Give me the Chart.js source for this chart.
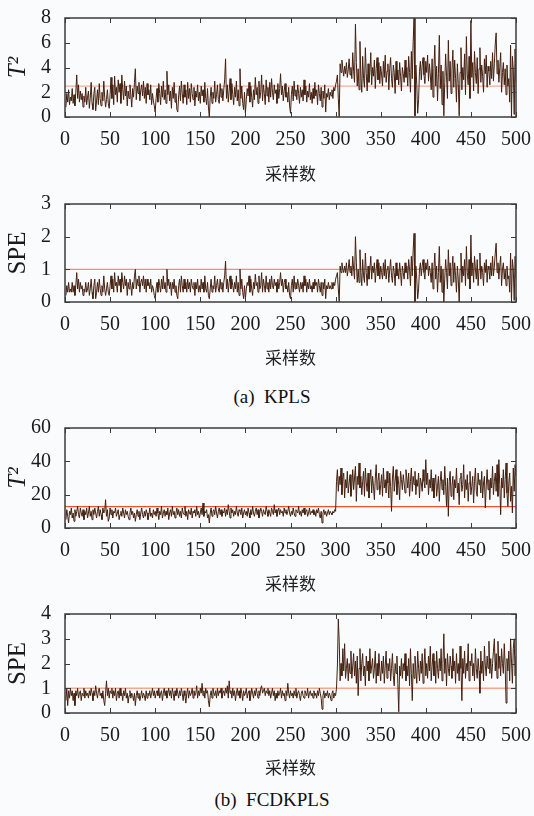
<!DOCTYPE html>
<html>
<head>
<meta charset="utf-8">
<script src="https://cdn.jsdelivr.net/npm/chart.js@4/dist/chart.umd.min.js"></script>
<style>
  body { margin: 0; background: #fafbfd; }
  #page { position: relative; width: 534px; height: 816px; }
  canvas { position: absolute; left: 0; }
  .cap { position: absolute; left: 0; width: 544px; text-align: center; white-space: pre;
         font-family: 'Liberation Serif', 'Times New Roman', serif; font-size: 19px; color: #111; }
</style>
</head>
<body>
<div id="page">
  <canvas id="c1" width="534" height="186" style="top:0px"></canvas>
  <canvas id="c2" width="534" height="186" style="top:186px"></canvas>
  <div class="cap" style="top:386px">(a)  KPLS</div>
  <canvas id="c3" width="534" height="186" style="top:410px"></canvas>
  <canvas id="c4" width="534" height="186" style="top:596px"></canvas>
  <div class="cap" style="top:789px">(b)  FCDKPLS</div>
</div>
<script>
// x axis: samples 1..500
var xTicks = [0, 50, 100, 150, 200, 250, 300, 350, 400, 450, 500];
var xLabel = '采样数';

// (a) KPLS  T^2
var kplsT2 = [
  0.8,1.9,1.2,2.2,1.0,1.6,1.3,2.3,1.1,1.8,0.9,2.0,3.4,1.5,2.6,1.2,2.1,1.4,1.9,0.8,1.7,1.2,2.4,1.0,1.6,
  2.1,0.7,1.5,2.8,1.1,0.6,1.9,2.4,0.5,1.3,2.2,1.0,2.7,1.5,0.9,2.0,1.3,2.9,1.6,0.8,1.4,2.2,1.1,0.7,1.8,
  3.2,1.5,2.6,1.0,3.3,1.8,2.4,1.2,3.0,2.0,2.7,1.1,3.4,2.2,1.4,2.9,1.7,2.5,0.9,2.1,1.5,2.6,1.8,0.8,2.3,
  1.6,2.8,3.9,1.4,2.5,1.9,2.8,1.3,2.2,2.6,1.7,2.9,1.5,2.4,1.1,2.7,1.8,2.2,1.4,2.6,1.0,1.9,1.3,0.9,0.4,
  1.5,2.3,1.2,2.7,1.9,1.0,2.5,1.6,2.9,1.4,2.2,1.1,3.7,1.8,2.6,1.3,2.1,0.7,2.4,1.5,2.8,1.2,1.9,0.6,0.4,
  1.7,2.5,1.3,2.9,1.9,1.1,2.6,1.6,2.2,1.0,2.8,1.5,2.3,1.2,2.7,1.9,1.4,2.4,0.9,2.1,1.6,2.6,1.3,2.0,1.1,
  2.5,1.7,2.2,1.2,2.8,1.5,1.0,2.3,0.8,0.0,1.6,2.4,1.1,2.0,1.5,2.9,1.2,1.8,2.6,1.4,1.1,2.7,1.6,2.3,1.3,
  2.2,3.0,4.7,1.5,2.6,1.2,2.1,3.1,1.4,2.7,1.8,1.0,2.4,1.6,2.9,1.3,2.2,0.9,3.9,1.5,2.5,1.1,0.6,2.0,0.3,
  1.4,2.3,1.7,2.8,1.2,2.5,1.6,0.8,2.2,1.4,3.2,1.8,2.4,1.1,2.9,1.5,2.0,3.4,1.3,2.6,1.9,1.0,3.0,1.7,2.4,
  1.2,2.8,1.6,3.1,2.0,1.4,2.6,1.9,2.2,1.1,2.7,1.5,2.3,3.5,1.8,2.5,1.3,2.1,2.7,1.6,2.0,1.2,2.4,0.9,0.3,
  1.8,2.5,1.3,2.9,1.7,2.2,1.4,2.6,1.9,1.1,2.4,1.6,2.2,1.3,3.0,1.8,2.5,1.2,2.1,1.6,2.7,1.4,2.0,1.1,2.3,
  1.5,2.8,1.7,2.2,1.0,2.6,1.9,1.3,2.4,0.8,2.1,1.5,2.6,0.4,1.9,1.6,2.3,1.4,2.0,1.7,2.2,1.5,2.4,2.1,2.6,
  2.9,3.4,1.5,0.0,4.3,3.6,4.6,3.9,3.3,4.1,3.5,4.4,3.2,3.8,4.7,3.4,4.0,3.1,5.2,3.7,2.8,7.5,4.4,2.5,3.9,
  2.2,6.1,3.3,2.0,4.9,3.1,2.4,5.6,3.5,2.1,4.3,2.8,3.6,5.2,2.6,4.0,3.3,4.6,2.3,3.9,4.8,3.0,4.4,2.7,4.1,
  3.4,2.5,4.5,3.2,5.0,2.8,3.7,4.3,2.2,3.9,4.8,3.1,2.4,4.2,3.6,1.9,4.5,3.0,3.8,2.6,4.4,3.3,2.1,4.0,3.5,
  2.8,4.6,3.2,4.0,2.5,4.9,3.6,2.0,5.3,3.1,6.1,8.0,0.1,4.2,2.6,0.3,1.4,3.7,4.5,3.0,4.2,4.8,3.4,2.7,4.5,
  3.6,5.0,2.9,4.3,3.4,2.2,4.7,1.6,3.9,5.8,2.5,4.1,1.3,3.5,6.6,2.3,4.2,1.0,3.7,0.1,2.8,5.1,3.3,1.5,6.2,
  2.9,4.5,1.9,3.8,5.4,2.4,4.6,3.1,1.2,4.3,2.7,0.1,3.6,5.6,2.2,4.0,3.0,5.1,1.8,6.5,3.4,2.6,4.9,1.5,7.8,
  3.2,4.4,2.1,5.3,3.6,2.7,4.8,1.9,3.9,5.6,2.8,4.2,3.3,2.0,4.7,3.5,5.0,2.4,4.1,3.7,2.6,4.5,3.1,5.2,2.9,
  4.3,5.9,6.8,3.5,4.6,2.8,4.0,5.2,2.0,3.6,4.4,2.6,3.9,1.8,4.2,2.5,3.1,1.2,5.8,0.0,4.9,3.8,0.2,5.5,2.8
];

// (a) KPLS  SPE
var kplsSPE = [
  0.2,0.5,0.3,0.6,0.3,0.4,0.3,0.6,0.3,0.5,0.2,0.5,0.9,0.4,0.7,0.3,0.6,0.4,0.5,0.2,0.4,0.3,0.6,0.3,0.4,
  0.6,0.2,0.4,0.7,0.3,0.1,0.5,0.7,0.1,0.3,0.6,0.3,0.7,0.4,0.2,0.5,0.3,0.8,0.4,0.2,0.4,0.6,0.3,0.2,0.5,
  0.8,0.4,0.7,0.3,0.9,0.5,0.6,0.3,0.8,0.5,0.7,0.3,0.9,0.6,0.4,0.8,0.5,0.7,0.2,0.6,0.4,0.7,0.5,0.2,0.6,
  0.4,0.8,1.0,0.4,0.7,0.5,0.8,0.3,0.6,0.7,0.5,0.8,0.4,0.7,0.3,0.7,0.5,0.6,0.4,0.7,0.3,0.5,0.4,0.2,0.1,
  0.4,0.6,0.3,0.7,0.5,0.3,0.7,0.4,0.8,0.4,0.6,0.3,1.0,0.5,0.7,0.4,0.6,0.2,0.6,0.4,0.7,0.3,0.5,0.2,0.1,
  0.5,0.7,0.3,0.8,0.5,0.3,0.7,0.4,0.6,0.3,0.7,0.4,0.6,0.3,0.7,0.5,0.4,0.6,0.2,0.6,0.4,0.7,0.3,0.5,0.3,
  0.7,0.4,0.6,0.3,0.8,0.4,0.3,0.6,0.2,0.1,0.4,0.7,0.3,0.5,0.4,0.8,0.3,0.5,0.7,0.4,0.3,0.7,0.4,0.6,0.3,
  0.6,0.8,1.25,0.4,0.7,0.3,0.6,0.8,0.4,0.7,0.5,0.3,0.6,0.4,0.8,0.3,0.6,0.2,1.0,0.4,0.7,0.3,0.1,0.5,0.1,
  0.4,0.6,0.5,0.8,0.3,0.7,0.4,0.2,0.6,0.4,0.85,0.5,0.6,0.3,0.8,0.4,0.5,0.9,0.3,0.7,0.5,0.3,0.8,0.4,0.6,
  0.3,0.7,0.4,0.8,0.5,0.4,0.7,0.5,0.6,0.3,0.7,0.4,0.6,0.9,0.5,0.7,0.3,0.6,0.7,0.4,0.5,0.3,0.6,0.2,0.1,
  0.5,0.7,0.3,0.8,0.4,0.6,0.4,0.7,0.5,0.3,0.6,0.4,0.6,0.3,0.8,0.5,0.7,0.3,0.6,0.4,0.7,0.4,0.5,0.3,0.6,
  0.4,0.7,0.5,0.6,0.3,0.7,0.5,0.3,0.6,0.2,0.6,0.4,0.7,0.1,0.5,0.4,0.6,0.4,0.5,0.4,0.6,0.4,0.6,0.5,0.7,
  0.8,0.9,0.4,0.0,1.1,0.9,1.2,1.0,0.9,1.1,0.9,1.2,0.8,1.0,1.3,0.9,1.1,0.8,1.4,1.0,0.7,2.0,1.2,0.6,1.0,
  0.6,1.6,0.9,0.5,1.3,0.8,0.6,1.5,0.9,0.5,1.1,0.7,1.0,1.4,0.7,1.1,0.9,1.2,0.6,1.0,1.3,0.8,1.2,0.7,1.1,
  0.9,0.7,1.2,0.8,1.3,0.7,1.0,1.1,0.6,1.0,1.3,0.8,0.6,1.1,0.9,0.5,1.2,0.8,1.0,0.7,1.2,0.9,0.5,1.1,0.9,
  0.7,1.2,0.9,1.1,0.7,1.3,1.0,0.5,1.4,0.8,1.6,2.1,0.0,1.1,0.7,0.1,0.4,1.0,1.2,0.8,1.1,1.3,0.9,0.7,1.2,
  1.0,1.3,0.8,1.1,0.9,0.6,1.2,0.4,1.0,1.5,0.7,1.1,0.3,0.9,1.7,0.6,1.1,0.3,1.0,0.0,0.7,1.3,0.9,0.4,1.6,
  0.8,1.2,0.5,1.0,1.4,0.6,1.2,0.8,0.3,1.1,0.7,0.0,1.0,1.5,0.6,1.1,0.8,1.3,0.5,1.7,0.9,0.7,1.3,0.4,2.05,
  0.8,1.2,0.6,1.4,1.0,0.7,1.3,0.5,1.0,1.5,0.7,1.1,0.9,0.5,1.2,0.9,1.3,0.6,1.1,1.0,0.7,1.2,0.8,1.4,0.8,
  1.1,1.5,1.8,0.9,1.2,0.7,1.1,1.4,0.5,1.0,1.2,0.7,1.0,0.5,1.1,0.7,0.8,0.3,1.5,0.0,1.3,1.0,0.05,1.4,0.7
];

// (b) FCDKPLS  T^2
var fcdT2 = [
  5,11,7,3,10,8,12,6,9,4,11,7,10,13,8,6,12,9,7,11,5,10,8,12,6,
  9,13,7,10,5,11,8,12,9,6,10,13,7,11,8,5,12,9,10,17,7,11,4,6,12,
  8,11,6,10,9,12,7,9,11,5,8,10,7,12,9,6,11,8,10,7,5,9,12,8,10,
  6,9,4,8,11,7,10,5,9,12,8,6,10,7,11,9,5,8,12,7,9,6,11,8,10,
  7,12,9,5,10,8,13,6,9,11,7,10,8,12,5,9,11,7,13,8,10,6,9,12,8,
  11,7,10,6,12,9,8,13,7,10,5,11,9,8,12,6,10,9,11,7,13,8,10,6,9,
  12,8,15,7,10,9,11,6,8,3,9,12,7,10,11,8,13,9,6,10,12,8,11,7,10,
  9,12,7,11,8,14,10,6,12,9,11,7,10,8,13,9,7,11,10,8,12,6,9,11,8,
  10,7,12,9,6,11,8,13,9,7,10,12,8,11,6,9,12,10,7,11,9,8,13,10,7,
  11,9,7,12,10,8,14,9,11,7,10,12,8,11,9,10,7,12,9,11,8,10,13,9,7,
  10,8,12,9,7,11,10,9,13,8,10,7,11,9,12,8,10,11,7,9,12,8,10,9,11,
  8,10,7,11,9,12,8,6,10,3,9,11,8,10,7,9,11,8,10,9,8,10,9,11,10,
  28,35,22,31,26,36,20,30,33,18,29,24,34,21,27,32,19,25,35,23,30,37,16,31,26,
  39,24,31,20,28,34,19,36,27,22,33,18,29,35,21,31,25,17,30,38,23,28,33,20,26,
  32,19,36,24,29,21,34,27,18,33,25,10,30,37,22,28,35,20,31,26,17,34,29,23,32,
  27,21,35,30,24,33,19,28,36,22,31,26,34,20,29,25,33,18,30,27,22,35,28,24,41,
  26,33,20,29,24,35,22,30,18,27,32,19,25,31,16,28,34,23,29,20,37,25,13,30,7,
  28,34,19,25,31,17,29,24,36,21,27,14,30,33,22,26,38,18,29,23,32,16,27,34,20,
  25,31,15,28,36,22,19,33,26,29,21,34,18,27,31,12,25,35,23,29,17,30,24,37,20,
  28,33,22,38,19,41,26,8,30,24,35,18,29,39,21,13,27,33,16,25,9,36,22,38,31
];

// (b) FCDKPLS  SPE
var fcdSPE = [
  0.5,1.0,0.3,0.9,0.6,1.0,0.7,0.9,0.5,0.8,0.3,0.9,0.7,1.0,0.6,0.8,0.9,0.5,0.8,0.7,1.0,0.6,0.9,0.7,0.8,
  0.6,0.9,0.7,1.0,0.8,0.5,0.9,0.7,1.1,0.8,0.6,0.9,1.0,0.7,0.8,0.6,0.9,0.5,0.3,0.8,1.3,0.7,1.0,0.6,0.9,
  0.8,1.0,0.6,0.9,0.7,1.0,0.5,0.8,0.9,0.6,1.0,0.7,0.8,0.5,0.9,0.7,1.0,0.6,0.8,0.4,0.7,0.9,0.6,0.8,0.7,
  0.5,0.8,0.3,0.7,0.9,0.6,0.8,0.5,0.7,0.9,0.6,0.8,0.7,0.5,0.9,0.6,0.8,0.7,0.9,0.6,0.8,1.0,0.7,0.9,0.6,
  0.8,0.9,0.7,1.0,0.6,0.8,0.9,0.5,0.8,1.0,0.7,0.9,0.6,0.8,1.0,0.7,0.9,0.6,1.0,0.8,0.5,0.9,0.7,1.0,0.8,
  0.6,0.9,0.7,1.0,0.8,0.5,0.9,0.7,0.4,0.8,1.0,0.6,0.9,0.7,0.8,1.0,0.6,0.9,0.7,0.8,1.1,0.6,0.9,0.7,1.0,
  0.8,1.2,0.7,0.9,0.6,1.0,0.8,0.9,0.5,0.25,0.7,0.9,0.6,1.0,0.8,0.7,0.9,0.6,1.0,0.7,0.9,0.8,1.0,0.6,0.8,
  0.9,0.7,1.0,0.8,1.1,0.6,1.3,0.8,0.9,0.6,1.0,0.7,0.9,0.5,0.8,1.0,0.7,0.9,0.6,1.0,0.8,0.5,0.9,0.7,0.8,
  1.0,0.6,0.8,0.9,0.5,0.7,1.0,0.8,0.6,0.9,0.7,1.0,0.8,0.6,0.9,0.7,1.0,1.1,0.8,0.9,1.0,0.7,0.9,0.8,1.0,
  0.7,0.9,0.6,0.8,1.0,0.7,0.9,0.5,0.8,0.6,0.9,0.7,0.8,1.0,0.6,0.9,0.7,0.8,0.5,0.9,0.7,1.2,0.8,0.6,0.9,
  0.7,0.8,0.6,0.9,0.7,1.0,0.6,0.8,0.9,0.7,0.5,0.8,0.9,0.7,0.6,0.9,0.8,0.7,1.0,0.6,0.8,0.9,0.7,0.8,0.6,
  0.9,0.7,0.8,0.6,0.9,0.7,1.0,0.8,0.6,0.15,0.7,0.9,0.6,0.8,0.7,0.9,0.6,0.8,0.7,0.5,0.8,0.9,0.6,0.8,0.7,
  1.0,1.9,3.8,2.9,1.3,2.0,1.5,2.6,1.7,2.8,1.4,1.8,2.2,1.3,2.0,1.6,2.5,1.4,1.9,2.4,1.5,2.1,1.2,2.3,0.7,
  1.8,2.6,1.3,2.0,2.4,1.5,1.9,1.1,2.3,1.7,2.1,1.3,2.6,1.6,1.9,2.2,1.4,1.8,2.5,1.2,2.0,1.5,2.4,1.7,1.3,
  2.1,1.6,2.3,1.2,1.9,2.5,1.4,2.0,1.7,2.2,1.3,1.8,2.4,1.5,1.1,2.0,1.6,2.3,1.2,0.05,1.9,1.5,2.2,1.4,2.0,
  1.7,2.4,1.3,1.9,1.5,2.2,1.1,2.6,1.6,0.5,2.0,1.4,2.3,1.7,1.2,2.5,1.8,1.3,2.1,1.6,2.4,1.2,1.9,2.6,1.5,
  2.0,1.4,2.3,1.7,2.7,1.3,1.9,2.4,1.5,2.1,1.2,2.5,1.8,1.4,2.2,1.7,2.6,1.3,2.0,3.2,1.6,2.2,1.1,2.4,1.8,
  1.5,2.3,1.9,1.4,2.6,1.7,2.1,1.2,2.4,1.6,2.0,1.3,2.7,1.8,0.5,2.2,1.6,2.5,1.4,2.0,1.7,2.8,1.3,2.1,1.9,
  2.4,1.5,2.0,1.3,2.6,1.8,1.4,2.2,1.7,0.8,2.5,1.6,2.1,1.3,2.7,1.9,1.5,2.3,1.8,2.9,1.6,2.2,1.4,2.0,2.5,
  3.0,1.7,2.4,1.4,2.9,1.8,2.3,1.5,2.6,2.0,1.6,2.8,1.9,0.4,2.2,1.7,2.5,1.3,3.0,2.1,1.2,2.6,3.0,1.5,2.3
];

// control limits
var kplsT2Limit = 2.5;
var kplsSPELimit = 1.0;
var fcdT2Limit = 12.8;
var fcdSPELimit = 1.0;

// y axis ranges / steps
var kplsT2Axis = [0, 8, 2];
var kplsSPEAxis = [0, 3, 1];
var fcdT2Axis = [0, 60, 20];
var fcdSPEAxis = [0, 4, 1];

var serif = "'Liberation Serif', 'Times New Roman', serif";
var lineColor = '#43200f';

// closed box with inward ticks on all four sides, drawn over the data
var boxTicks = {
  id: 'boxTicks',
  afterDatasetsDraw: function(chart) {
    var ctx = chart.ctx, a = chart.chartArea;
    var xs = chart.scales.x, ys = chart.scales.y;
    var len = 5;
    ctx.save();
    ctx.strokeStyle = '#3c3c3c';
    ctx.lineWidth = 1;
    ctx.beginPath();
    xs.ticks.forEach(function(t) {
      var px = Math.round(xs.getPixelForValue(t.value)) + 0.5;
      ctx.moveTo(px, a.bottom); ctx.lineTo(px, a.bottom - len);
      ctx.moveTo(px, a.top); ctx.lineTo(px, a.top + len);
    });
    ys.ticks.forEach(function(t) {
      var py = Math.round(ys.getPixelForValue(t.value)) + 0.5;
      ctx.moveTo(a.left, py); ctx.lineTo(a.left + len, py);
      ctx.moveTo(a.right, py); ctx.lineTo(a.right - len, py);
    });
    ctx.stroke();
    ctx.lineWidth = 1.5;
    ctx.strokeRect(a.left, a.top, a.right - a.left, a.bottom - a.top);
    ctx.restore();
  }
};

function makeChart(id, values, limit, limitColor, axis, yTitle, italic, padTop, plotH, titlePad) {
  var canvas = document.getElementById(id);
  var pts = values.map(function(v, i) { return {x: i + 1, y: v}; });
  var lim = [{x: 0, y: limit}, {x: 500, y: limit}];
  var xH = canvas.height - padTop - plotH;
  return new Chart(canvas, {
    type: 'line',
    data: {
      datasets: [
        { data: pts, borderColor: lineColor, borderWidth: 1, pointRadius: 0, tension: 0, order: 0 },
        { data: lim, borderColor: limitColor, borderWidth: 1.3, pointRadius: 0, order: 1 }
      ]
    },
    options: {
      responsive: false,
      animation: false,
      events: [],
      layout: { padding: { top: padTop, right: 15, left: 0, bottom: 0 } },
      plugins: { legend: { display: false }, tooltip: { enabled: false } },
      scales: {
        x: {
          type: 'linear', min: 0, max: 500,
          afterBuildTicks: function(s) { s.ticks = xTicks.map(function(v) { return {value: v}; }); },
          afterFit: function(s) { s.height = xH; },
          grid: { display: false }, border: { display: false },
          ticks: { font: { family: serif, size: 20 }, color: '#1a1a1a', padding: 3,
                   maxRotation: 0, autoSkip: false },
          title: { display: true, text: xLabel, color: '#222',
                   font: { family: "'Noto Sans CJK SC', sans-serif", size: 17 },
                   padding: { top: 0, bottom: titlePad } }
        },
        y: {
          min: axis[0], max: axis[1],
          ticks: { stepSize: axis[2], font: { family: serif, size: 20 }, color: '#1a1a1a',
                   padding: 6, autoSkip: false },
          afterFit: function(s) { s.width = 65; },
          grid: { display: false }, border: { display: false },
          title: { display: true, text: yTitle, color: '#1a1a1a',
                   font: { family: serif, size: 25, style: italic ? 'italic' : 'normal' },
                   padding: { top: 3, bottom: 0 } }
        }
      }
    },
    plugins: [boxTicks]
  });
}

makeChart('c1', kplsT2, kplsT2Limit, '#f4ae9a', kplsT2Axis, 'T²', true, 15, 102, 2);
makeChart('c2', kplsSPE, kplsSPELimit, '#f4906e', kplsSPEAxis, 'SPE', false, 13, 103, 4);
makeChart('c3', fcdT2, fcdT2Limit, '#f0502c', fcdT2Axis, 'T²', true, 15, 103, 2);
makeChart('c4', fcdSPE, fcdSPELimit, '#f4a690', fcdSPEAxis, 'SPE', false, 14, 103, 4);
</script>
</body>
</html>
